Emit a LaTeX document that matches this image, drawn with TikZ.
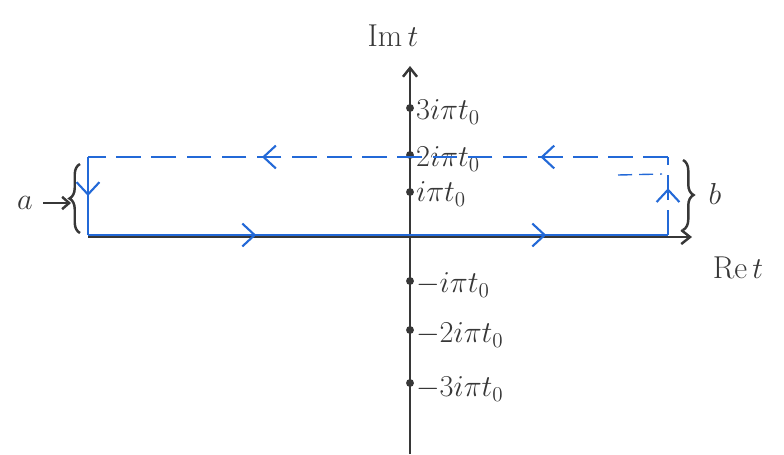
\documentclass[tikz,border=0pt]{standalone}
\usetikzlibrary{arrows.meta,decorations.markings,decorations.pathreplacing}
\definecolor{pen}{RGB}{55,55,55}
\definecolor{bluepen}{RGB}{35,105,215}
\begin{document}
\begin{tikzpicture}[x=0.02cm,y=-0.02cm,
  axis/.style={pen,line width=1.4pt,-{Straight Barb[length=5pt,width=8pt]}},
  contour/.style={bluepen,line width=1.3pt},
  dashcontour/.style={bluepen,line width=1.1pt,dash pattern=on 14pt off 6pt},
  tick/.style={circle,fill=pen,inner sep=0pt,minimum size=4.5pt},
  ticklabel/.style={anchor=west,inner sep=1pt,font=\fontsize{17}{19}\selectfont,text=pen},
  axlabel/.style={font=\fontsize{18}{20}\selectfont,text=pen},
  markarrow/.style={postaction={decorate,decoration={markings,
     mark=at position #1 with {\arrow[bluepen,line width=1.2pt]{Straight Barb[length=7pt,width=13pt]}}}}},
  bracestyle/.style={pen,line width=1.4pt,decorate,decoration={brace,amplitude=6pt}}
]
\useasboundingbox (0,0) rectangle (784,454);

% corners of contour
\coordinate (A) at (88,235);
\coordinate (B) at (668,235);
\coordinate (C) at (668,157);
\coordinate (D) at (88,157);

% axes
\coordinate (xs) at (88,237);
\coordinate (xe) at (692,237);
\coordinate (ys) at (410,454);
\coordinate (ye) at (410,66);
\draw[axis] (xs) -- (xe);
\draw[axis] (ys) -- (ye);

\node[axlabel] (im) at (393,36) {Im\,$t$};
\node[axlabel] (re) at (738,268) {Re\,$t$};

% ticks
\node[tick] (t3) at (410,108) {};
\node[tick] (t2) at (410,155) {};
\node[tick] (t1) at (410,192) {};
\node[tick] (tm1) at (410,281) {};
\node[tick] (tm2) at (410,330) {};
\node[tick] (tm3) at (410,383) {};
\node[ticklabel] (l3) at (414,112) {$3i\pi t_0$};
\node[ticklabel] (l2) at (414,159) {$2i\pi t_0$};
\node[ticklabel] (l1) at (414,194) {$i\pi t_0$};
\node[ticklabel] (lm1) at (414,285) {$-i\pi t_0$};
\node[ticklabel] (lm2) at (414,335) {$-2i\pi t_0$};
\node[ticklabel] (lm3) at (414,389) {$-3i\pi t_0$};

% contour
\draw[contour,markarrow=0.29,markarrow=0.79] (A) -- (B);
\draw[dashcontour,markarrow=0.6] (B) -- (C);
\draw[dashcontour,markarrow=0.22,markarrow=0.70] (C) -- (D);
\draw[contour,markarrow=0.5] (D) -- (A);
\coordinate (s1) at (618,175);
\coordinate (s2) at (662,174);
\draw[bluepen,line width=0.8pt,dash pattern=on 8pt off 4pt] (s1) -- (s2);

% braces and labels
\draw[bracestyle] (80,233) -- (80,164);
\coordinate (bltip) at (71,199);
\node[axlabel] (a) at (25,203) {$a$};
\draw[pen,line width=1.4pt,-{Straight Barb[length=4pt,width=7pt]}] (a.east) ++(4,0) coordinate (ae) (ae) -- (bltip |- ae);

\draw[bracestyle] (683,160) -- (683,230);
\node[axlabel] (b) at (715,194) {$b$};
\end{tikzpicture}
\end{document}
